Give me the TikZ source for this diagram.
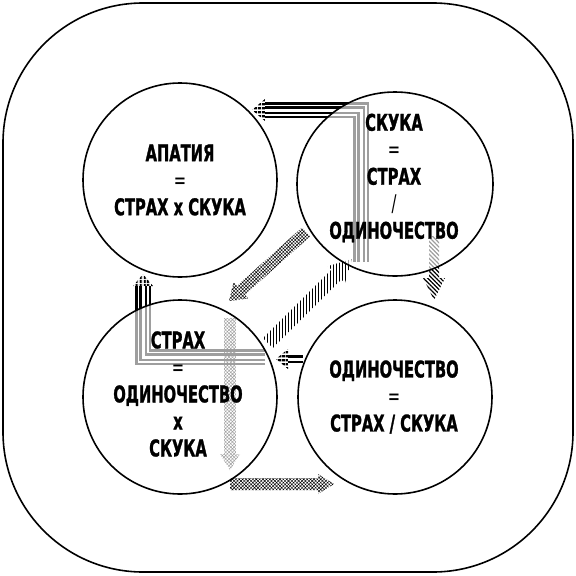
\documentclass[tikz,border=0pt]{standalone}
\usepackage{fontspec}
\setmainfont{DejaVu Sans}[FakeStretch=0.64,BoldFeatures={FakeBold=1.2}]
\usetikzlibrary{calc,patterns.meta,shapes.geometric}

% straight block arrow: [style]{tail}{tip}{half shaft}{half head}{head length}
\newcommand\blockarrow[6][]{%
  \coordinate (base) at ($(#3)!#6!(#2)$);
  \fill[#1] ($(#2)!#4!90:(#3)$) -- ($(base)!#4!-90:(#2)$) -- ($(base)!#5!-90:(#2)$)
    -- (#3) -- ($(base)!#5!90:(#2)$) -- ($(base)!#4!90:(#2)$) -- ($(#2)!#4!-90:(#3)$) -- cycle;}

\begin{document}
\begin{tikzpicture}[x=1pt,y=-1pt,
    ring/.style={draw,line width=1.6pt,fill=white,fill opacity=.62,minimum size=194pt},
    caption/.style={align=center,font=\bfseries\fontsize{23}{27}\selectfont},
    ribbon/.style={draw=black,line width=16pt,line join=miter,
      postaction={draw=white,line width=11pt},
      postaction={draw=black,line width=8pt},
      postaction={draw=white,line width=3pt}},
    hlines/.style={pattern={Lines[angle=0,distance=4pt,line width=2.6pt]}},
    vlines/.style={pattern={Lines[angle=90,distance=4pt,line width=2.6pt]}},
    mesh/.style={pattern={Hatch[angle=45,distance=2.4pt,line width=.45pt]}},
    stripes/.style={pattern={Lines[angle=90,distance=3pt,line width=1pt]}},
    slant/.style={pattern={Lines[angle=-45,distance=3pt,line width=1.2pt]}}]
  \useasboundingbox (0,0) rectangle (576,576);
  \fill[white] (0,0) rectangle (576,576);
  \draw[line width=1.6pt,rounded corners=140pt] (3,3) rectangle (573,572);

  % arrow ends
  \coordinate (Astart) at (361,262);
  \coordinate (Acorner) at (361,110);
  \coordinate (Atip) at (252,110);
  \coordinate (Bstart) at (265,357);
  \coordinate (Bcorner) at (143,357);
  \coordinate (Btip) at (143,274);
  \coordinate (Cstart) at (303,359);
  \coordinate (Ctip) at (276,359);
  \coordinate (Dtail) at (306,232);
  \coordinate (Dtip) at (229,301);
  \coordinate (Etail) at (268,343);
  \coordinate (Etip) at (352,259);
  \coordinate (Ftail) at (230,318);
  \coordinate (Ftip) at (230,470);
  \coordinate (Gtail) at (230,484);
  \coordinate (Gtip) at (334,484);
  \coordinate (Htail) at (434,236);
  \coordinate (Htip) at (434,300);

  % bent arrows
  \blockarrow[hlines]{Acorner}{Atip}{0pt}{11pt}{13pt}
  \draw[ribbon] (Astart) -- (Acorner) -- ($(Atip)!13pt!(Acorner)$);
  \blockarrow[vlines]{Bcorner}{Btip}{0pt}{10pt}{12pt}
  \draw[ribbon] (Bstart) -- (Bcorner) -- ($(Btip)!12pt!(Bcorner)$);
  \blockarrow[hlines]{Cstart}{Ctip}{0pt}{10pt}{12pt}
  \draw[ribbon,line width=11pt] (Cstart) -- ($(Ctip)!12pt!(Cstart)$);

  % straight arrows
  \blockarrow[mesh]{Dtail}{Dtip}{6pt}{11pt}{16pt}
  \blockarrow[stripes]{Etail}{Etip}{7pt}{12pt}{22pt}
  \blockarrow[mesh]{Ftail}{Ftip}{6pt}{10pt}{16pt}
  \blockarrow[mesh]{Gtail}{Gtip}{6pt}{10pt}{16pt}
  \blockarrow[slant]{Htail}{Htip}{5pt}{11pt}{22pt}

  % circles
  \node[ring,circle] (apathy) at (180,180) {};
  \node[ring,ellipse,minimum width=196pt,minimum height=184pt] (boredom) at (395,184) {};
  \node[ring,circle] (fear) at (180,397) {};
  \node[ring,circle] (loneliness) at (395,397) {};

  \node[caption] at (apathy) {АПАТИЯ\\{\mdseries =}\\СТРАХ x СКУКА};
  \node[caption] at ($(boredom)+(-1,-6)$) {СКУКА\\{\mdseries =}\\СТРАХ\\{\mdseries /}\\ОДИНОЧЕСТВО};
  \node[caption] at ($(fear)+(-2,-3)$) {СТРАХ\\{\mdseries =}\\ОДИНОЧЕСТВО\\x\\СКУКА};
  \node[caption] at ($(loneliness)+(-1,0)$) {ОДИНОЧЕСТВО\\{\mdseries =}\\СТРАХ / СКУКА};
\end{tikzpicture}
\end{document}
